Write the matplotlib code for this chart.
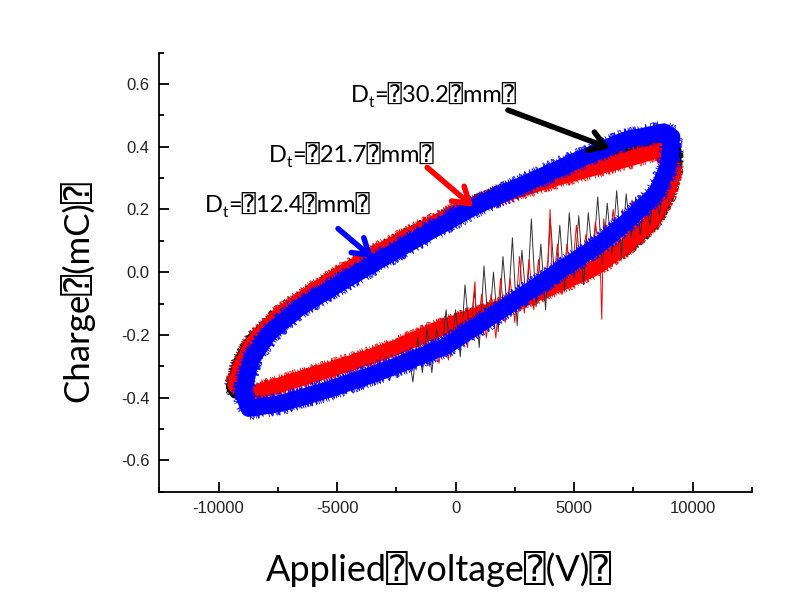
import matplotlib
matplotlib.use("Agg")
import matplotlib.pyplot as plt
from matplotlib.ticker import MultipleLocator
from matplotlib.transforms import offset_copy

plt.rcParams["font.family"] = ["Liberation Sans", "DejaVu Sans"]
plt.rcParams["axes.unicode_minus"] = False

BOX = "\u2370"  # missing-glyph box as it shows in the source figure
LABEL_FONT = ["Lato", "DejaVu Sans", "DejaVu Sans Mono"]

# 12.4 mm loop (blue): upper branch then lower branch
blue_v = [-8970, -8636, -7885, -6552, -4885, -3215, -1215, 789, 2953, 5126,
          7126, 8797, 9134, 8966, 8460, 7460, 6126, 4624, 2953, 1287, -380,
          -2882, -5384, -7388, -8720, -8970]
blue_q = [-0.387, -0.281, -0.196, -0.111, -0.036, 0.038, 0.124, 0.208, 0.283,
          0.357, 0.421, 0.448, 0.432, 0.336, 0.251, 0.177, 0.091, 0.017,
          -0.068, -0.153, -0.235, -0.310, -0.375, -0.419, -0.435, -0.387]

# 21.7 mm loop (red)
red_v = [-9300, -9000, -8500, -7500, -6000, -4500, -3000, -1500, 0, 1500,
         3000, 4500, 6000, 7500, 8600, 9200, 8900, 8300, 7200, 5800, 3700,
         2000, 600, -1000, -2500, -4000, -5500, -7000, -8500, -9300]
red_q = [-0.360, -0.290, -0.220, -0.140, -0.060, 0.010, 0.075, 0.135, 0.190,
         0.235, 0.270, 0.305, 0.335, 0.365, 0.390, 0.330, 0.250, 0.165, 0.085,
         0.010, -0.060, -0.110, -0.145, -0.190, -0.240, -0.280, -0.315,
         -0.350, -0.385, -0.360]

# 30.2 mm loop (black)
black_v = [-9450, -9150, -8600, -7500, -6000, -4500, -3000, -1500, 0, 1500,
           3000, 4500, 6000, 7500, 8700, 9300, 9300, 9000, 8400, 7300, 5800,
           3700, 2000, 600, -1000, -2500, -4000, -5500, -7000, -8500, -9300,
           -9450]
black_q = [-0.365, -0.285, -0.213, -0.132, -0.055, 0.015, 0.080, 0.140, 0.195,
           0.245, 0.285, 0.322, 0.356, 0.388, 0.408, 0.390, 0.330, 0.245,
           0.160, 0.080, 0.010, -0.060, -0.108, -0.140, -0.187, -0.238,
           -0.278, -0.313, -0.348, -0.380, -0.385, -0.365]

# noisy excursions on the falling branch
black_spike_v = [-2000, -1800, -1600, -1400, -1200, -1000, -800, -600, -400,
                 -200, 0, 200, 400, 600, 800, 1000, 1200, 1400, 1600, 1800,
                 2000, 2200, 2400, 2600, 2800, 3000, 3200, 3400, 3600, 3800,
                 4000, 4200, 4400, 4600, 4800, 5000, 5200, 5400, 5600, 5800,
                 6000, 6200, 6400, 6600, 6800, 7000, 7200, 7400, 7600, 7800,
                 8000, 8200, 8400, 8600, 8800, 9000]
black_spike_q = [-0.25, -0.35, -0.21, -0.32, -0.18, -0.32, -0.18, -0.27,
                 -0.12, -0.27, -0.12, -0.27, -0.04, -0.21, -0.06, -0.24,
                 0.02, -0.19, 0.00, -0.19, 0.05, -0.14, 0.11, -0.17, 0.07,
                 -0.11, 0.17, -0.11, 0.09, -0.12, 0.17, -0.04, 0.15, -0.06,
                 0.19, -0.02, 0.18, -0.04, 0.19, 0.04, 0.24, 0.02, 0.22, 0.06,
                 0.26, 0.05, 0.25, 0.11, 0.24, 0.12, 0.24, 0.15, 0.27, 0.18,
                 0.30, 0.22]
red_spike_v = [-1100, -900, -700, -500, -300, -100, 100, 300, 500, 700, 820,
               900, 1100, 1300, 1500, 1700, 1900, 2100, 2300, 2500, 2700,
               2900, 3100, 3300, 3500, 3700, 3900, 3990, 4100, 4300, 4500,
               4700, 4900, 5100, 5300, 5500, 5700, 5900, 6100, 6170, 6250,
               6450, 6650, 6850, 7050, 7250, 7450, 7650, 7850, 8050, 8250,
               8450, 8650, 8850, 9050]
red_spike_q = [-0.30, -0.21, -0.29, -0.20, -0.28, -0.15, -0.24, -0.14, -0.24,
               -0.13, -0.03, -0.21, -0.07, -0.21, -0.07, -0.21, -0.02, -0.16,
               -0.02, -0.16, 0.05, -0.13, 0.04, -0.12, 0.04, -0.08, 0.04, 0.20,
               -0.07, 0.09, -0.07, 0.09, -0.03, 0.15, 0.00, 0.12, 0.00, 0.16,
               0.05, -0.15, 0.17, 0.06, 0.20, 0.05, 0.20, 0.09, 0.23, 0.12,
               0.24, 0.13, 0.26, 0.16, 0.27, 0.19, 0.29]

# labels: (text value, text position, arrow tail, arrow tip, colour)
dt_labels = ["30.2", "21.7", "12.4"]
dt_text_pos = [(-4422, 0.543), (-7888, 0.351), (-10563, 0.192)]
dt_arrow_tail = [(2212, 0.517), (-1198, 0.334), (-4958, 0.139)]
dt_arrow_tip = [(6523, 0.395), (754, 0.208), (-3479, 0.044)]
dt_colors = ["black", "red", "blue"]


def draw_loop(ax, v, q, color, lw, z):
    ax.plot(v, q, color=color, lw=lw, solid_joinstyle="round",
            solid_capstyle="round", zorder=z)
    # ragged edges of the noisy band
    for k in range(3):
        fuzz, = ax.plot(v, q, color=color, lw=0.5, zorder=z)
        fuzz.set_sketch_params(scale=lw * 0.95, length=0.6 + 0.3 * k,
                               randomness=1.5)


fig = plt.figure(figsize=(8.1, 5.94), dpi=100)
ax = fig.add_axes([0.1967, 0.1722, 0.7314, 0.7391])

draw_loop(ax, black_v, black_q, "black", 8, 1)
draw_loop(ax, red_v, red_q, "red", 11, 2)
ax.plot(black_spike_v, black_spike_q, color="#333333", lw=0.7, zorder=2.5)
ax.plot(red_spike_v, red_spike_q, color="red", lw=0.7, zorder=2.5)
draw_loop(ax, blue_v, blue_q, "blue", 12, 3)

ax.set_xlim(-12500, 12500)
ax.set_ylim(-0.7, 0.7)

renderer = fig.canvas.get_renderer()
for val, pos, tail, tip, col in zip(dt_labels, dt_text_pos, dt_arrow_tail,
                                    dt_arrow_tip, dt_colors):
    # D, subscript t, then the rest, placed one after another
    t1 = ax.text(pos[0], pos[1], "D", fontsize=17, family=LABEL_FONT,
                 ha="left", va="baseline", zorder=5)
    w1 = t1.get_window_extent(renderer).width
    t2 = ax.text(pos[0], pos[1], "t", fontsize=11, family=LABEL_FONT,
                 ha="left", va="baseline", zorder=5,
                 transform=offset_copy(ax.transData, fig=fig, x=w1, y=-5,
                                       units="dots"))
    w2 = t2.get_window_extent(renderer).width
    ax.text(pos[0], pos[1], "=" + BOX + val + BOX + "mm" + BOX, fontsize=17,
            family=LABEL_FONT, ha="left", va="baseline", zorder=5,
            transform=offset_copy(ax.transData, fig=fig, x=w1 + w2, y=0,
                                  units="dots"))
    ax.annotate("", xy=tip, xytext=tail, zorder=5,
                arrowprops=dict(arrowstyle="->,head_length=0.55,head_width=0.35",
                                color=col, lw=4, mutation_scale=20,
                                shrinkA=0, shrinkB=0))

ax.xaxis.set_major_locator(MultipleLocator(5000))
ax.xaxis.set_minor_locator(MultipleLocator(2500))
ax.yaxis.set_major_locator(MultipleLocator(0.2))
ax.yaxis.set_minor_locator(MultipleLocator(0.1))
ax.yaxis.set_major_formatter(lambda y, p: f"{y:.1f}")
ax.tick_params(which="both", direction="in", width=1.3, colors="black",
               labelcolor="#222222", labelsize=12, pad=7)
ax.tick_params(which="major", length=7)
ax.tick_params(which="minor", length=3.5)
for side in ["top", "right"]:
    ax.spines[side].set_visible(False)
for side in ["left", "bottom"]:
    ax.spines[side].set_linewidth(1.3)

ax.set_xlabel("Applied" + BOX + "voltage" + BOX + "(V)" + BOX,
              family=LABEL_FONT, fontsize=26)
ax.xaxis.set_label_coords(0.472, -0.135)
ax.set_ylabel("Charge" + BOX + "(mC)" + BOX, family=LABEL_FONT, fontsize=25)
ax.yaxis.set_label_coords(-0.11, 0.457)

fig.savefig("out.png", dpi=100)
plt.close(fig)
